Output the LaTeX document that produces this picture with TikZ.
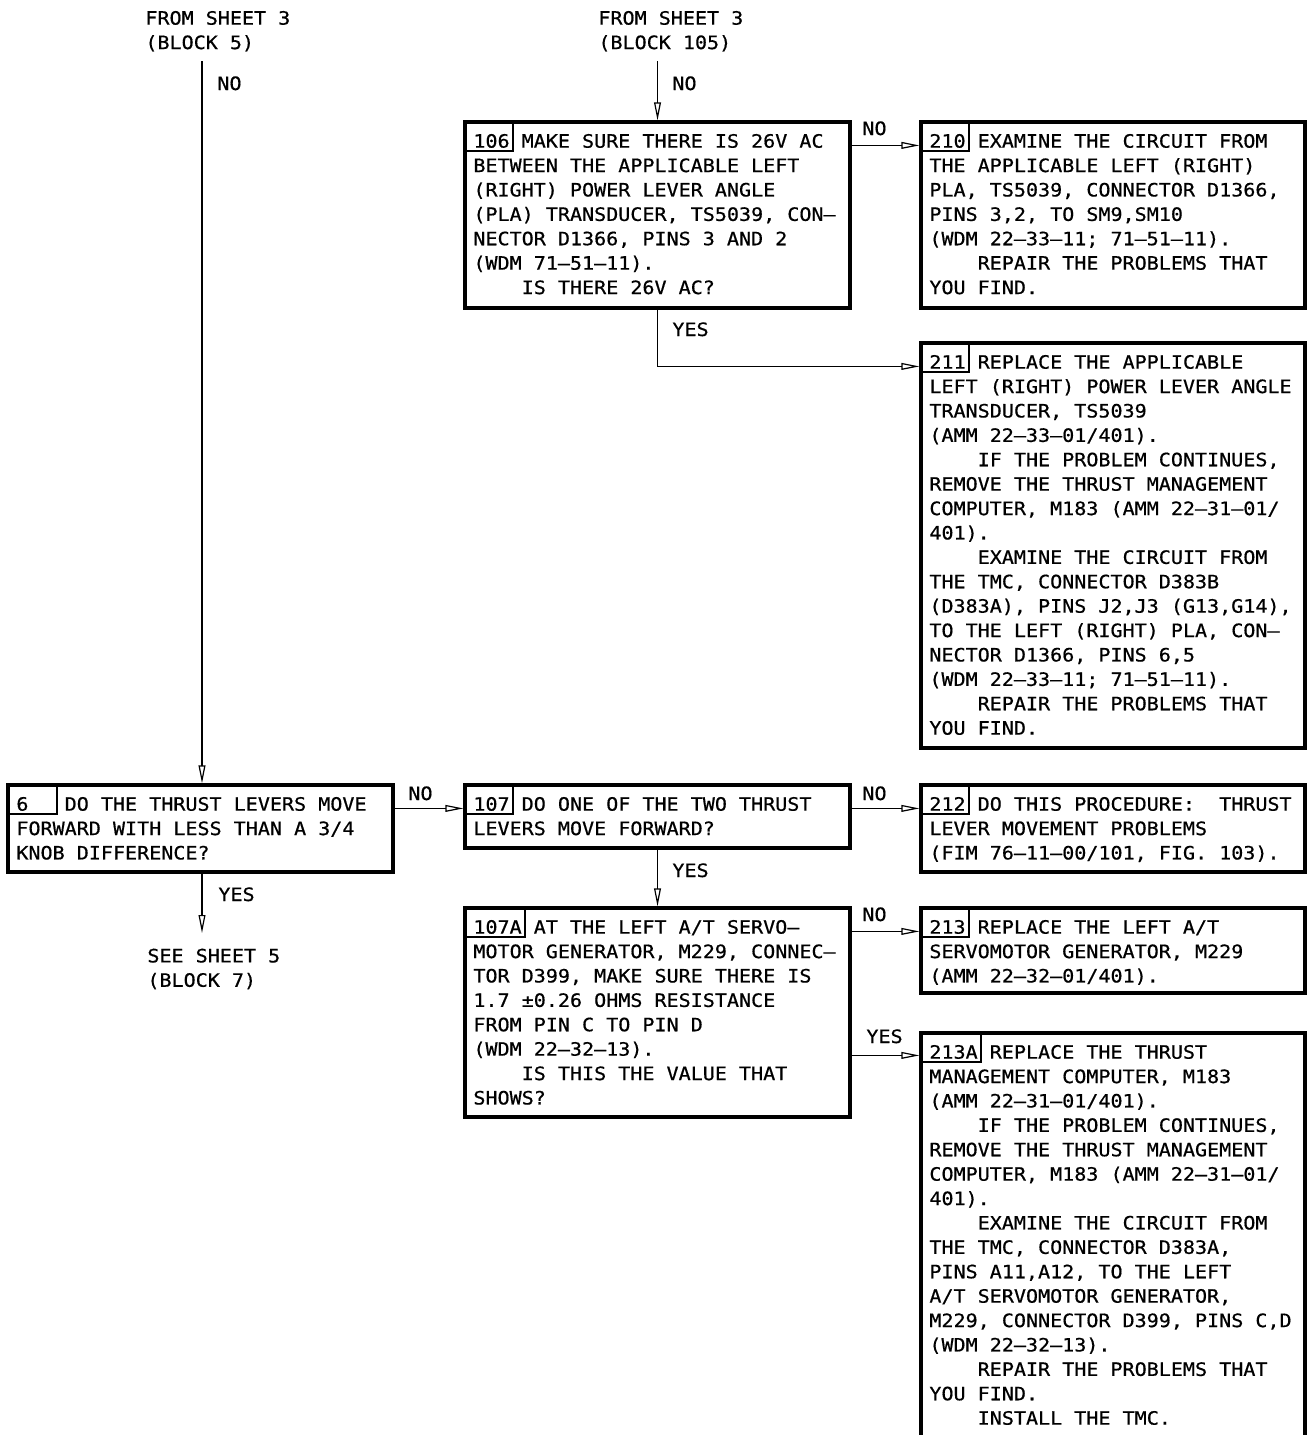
\documentclass[tikz,border=0pt]{standalone}
\usepackage{fontspec}
\newfontfamily\cad[FakeStretch=1.09,FakeBold=0.6]{DejaVu Sans Mono}
\usetikzlibrary{arrows.meta,fit}
\newcommand\ind{\hphantom{MMMM}}
\begin{document}
\begin{tikzpicture}[x=0.5pt,y=-0.5pt,
  box/.style={draw,line width=1.6pt,inner sep=0pt},
  cell/.style={draw,line width=0.6pt,inner sep=0pt},
  txt/.style={anchor=north west,inner sep=0pt,align=left,font=\cad\fontsize{9.2}{12.2}\selectfont},
  lbl/.style={anchor=base west,inner sep=0pt,font=\cad\fontsize{9.2}{12.2}\selectfont},
  conn/.style={line width=0.6pt,-{Triangle[open,length=9pt,width=3.4pt]}}]
\useasboundingbox (0,0) rectangle (1310,1435);
\clip (0,0) rectangle (1310,1435);
\fill[white] (0,0) rectangle (1310,1435);

% boxes
\node[box,fit={(465,122)(850,308)}] (b106) {};
\node[box,fit={(921,122)(1305,308)}] (b210) {};
\node[box,fit={(921,343)(1305,748)}] (b211) {};
\node[box,fit={(8,785)(393,872)}] (b6) {};
\node[box,fit={(465,785)(850,848)}] (b107) {};
\node[box,fit={(921,785)(1305,872)}] (b212) {};
\node[box,fit={(465,908)(850,1117)}] (b107A) {};
\node[box,fit={(921,908)(1305,993)}] (b213) {};
\node[box,fit={(921,1033)(1305,1470)}] (b213A) {};

% number cells
\node[cell,fit={(465,122)(513,151)}] (n106) {};
\node[cell,fit={(921,122)(969,151)}] (n210) {};
\node[cell,fit={(921,343)(969,372)}] (n211) {};
\node[cell,fit={(8,785)(57,814)}] (n6) {};
\node[cell,fit={(465,785)(513,814)}] (n107) {};
\node[cell,fit={(921,785)(969,814)}] (n212) {};
\node[cell,fit={(465,908)(525,937)}] (n107A) {};
\node[cell,fit={(921,908)(969,937)}] (n213) {};
\node[cell,fit={(921,1033)(981,1062)}] (n213A) {};

% texts
\node[txt] (t106) at (473,133.6) {106 MAKE SURE THERE IS 26V AC\\
BETWEEN THE APPLICABLE LEFT\\
(RIGHT) POWER LEVER ANGLE\\
(PLA) TRANSDUCER, TS5039, CON–\\
NECTOR D1366, PINS 3 AND 2\\
(WDM 71–51–11).\\
\ind IS THERE 26V AC?};

\node[txt] (t210) at (929,133.6) {210 EXAMINE THE CIRCUIT FROM\\
THE APPLICABLE LEFT (RIGHT)\\
PLA, TS5039, CONNECTOR D1366,\\
PINS 3,2, TO SM9,SM10\\
(WDM 22–33–11; 71–51–11).\\
\ind REPAIR THE PROBLEMS THAT\\
YOU FIND.};

\node[txt] (t211) at (929,354.6) {211 REPLACE THE APPLICABLE\\
LEFT (RIGHT) POWER LEVER ANGLE\\
TRANSDUCER, TS5039\\
(AMM 22–33–01/401).\\
\ind IF THE PROBLEM CONTINUES,\\
REMOVE THE THRUST MANAGEMENT\\
COMPUTER, M183 (AMM 22–31–01/\\
401).\\
\ind EXAMINE THE CIRCUIT FROM\\
THE TMC, CONNECTOR D383B\\
(D383A), PINS J2,J3 (G13,G14),\\
TO THE LEFT (RIGHT) PLA, CON–\\
NECTOR D1366, PINS 6,5\\
(WDM 22–33–11; 71–51–11).\\
\ind REPAIR THE PROBLEMS THAT\\
YOU FIND.};

\node[txt] (t6) at (16,796.6) {6\hphantom{MMM}DO THE THRUST LEVERS MOVE\\
FORWARD WITH LESS THAN A 3/4\\
KNOB DIFFERENCE?};

\node[txt] (t107) at (473,796.6) {107 DO ONE OF THE TWO THRUST\\
LEVERS MOVE FORWARD?};

\node[txt] (t212) at (929,796.6) {212 DO THIS PROCEDURE:\hphantom{M} THRUST\\
LEVER MOVEMENT PROBLEMS\\
(FIM 76–11–00/101, FIG. 103).};

\node[txt] (t107A) at (473,919.6) {107A AT THE LEFT A/T SERVO–\\
MOTOR GENERATOR, M229, CONNEC–\\
TOR D399, MAKE SURE THERE IS\\
1.7 ±0.26 OHMS RESISTANCE\\
FROM PIN C TO PIN D\\
(WDM 22–32–13).\\
\ind IS THIS THE VALUE THAT\\
SHOWS?};

\node[txt] (t213) at (929,919.6) {213 REPLACE THE LEFT A/T\\
SERVOMOTOR GENERATOR, M229\\
(AMM 22–32–01/401).};

\node[txt] (t213A) at (929,1044.6) {213A REPLACE THE THRUST\\
MANAGEMENT COMPUTER, M183\\
(AMM 22–31–01/401).\\
\ind IF THE PROBLEM CONTINUES,\\
REMOVE THE THRUST MANAGEMENT\\
COMPUTER, M183 (AMM 22–31–01/\\
401).\\
\ind EXAMINE THE CIRCUIT FROM\\
THE TMC, CONNECTOR D383A,\\
PINS A11,A12, TO THE LEFT\\
A/T SERVOMOTOR GENERATOR,\\
M229, CONNECTOR D399, PINS C,D\\
(WDM 22–32–13).\\
\ind REPAIR THE PROBLEMS THAT\\
YOU FIND.\\
\ind INSTALL THE TMC.};

% off-sheet references
\node[txt] (from5) at (145,10.6) {FROM SHEET 3\\(BLOCK 5)};
\node[txt] (from105) at (598,10.6) {FROM SHEET 3\\(BLOCK 105)};
\node[txt] (see7) at (147,948.3) {SEE SHEET 5\\(BLOCK 7)};

\coordinate (s1) at (202,61);
\coordinate (s2) at (657.5,61);
\coordinate (e1) at (202,933);
\coordinate (a210) at ([yshift=-12.5pt]b210.north west);
\coordinate (a211) at ([yshift=-12.5pt]b211.north west);
\coordinate (a107) at ([yshift=-12.5pt]b107.north west);
\coordinate (a212) at ([yshift=-12.5pt]b212.north west);
\coordinate (a213) at ([yshift=-12.5pt]b213.north west);
\coordinate (a213A) at ([yshift=-12pt]b213A.north west);

% connectors
\draw[conn] (s1) -- (s1 |- b6.north);
\draw[conn] (s2) -- (s2 |- b106.north);
\draw[conn] (a210 -| b106.east) -- (a210);
\draw[conn] (b106.south) |- (a211);
\draw[conn] (a107 -| b6.east) -- (a107);
\draw[conn] (a212 -| b107.east) -- (a212);
\draw[conn] (e1 |- b6.south) -- (e1);
\draw[conn] (b107.south) -- (b107A.north);
\draw[conn] (a213 -| b107A.east) -- (a213);
\draw[conn] (a213A -| b107A.east) -- (a213A);

% connector labels
\node[lbl] at (217,90) {NO};
\node[lbl] at (672,90) {NO};
\node[lbl] at (862,135) {NO};
\node[lbl] at (672,336) {YES};
\node[lbl] at (408,800) {NO};
\node[lbl] at (862,800) {NO};
\node[lbl] at (218,901) {YES};
\node[lbl] at (672,877) {YES};
\node[lbl] at (862,921) {NO};
\node[lbl] at (866,1043) {YES};
\end{tikzpicture}
\end{document}
